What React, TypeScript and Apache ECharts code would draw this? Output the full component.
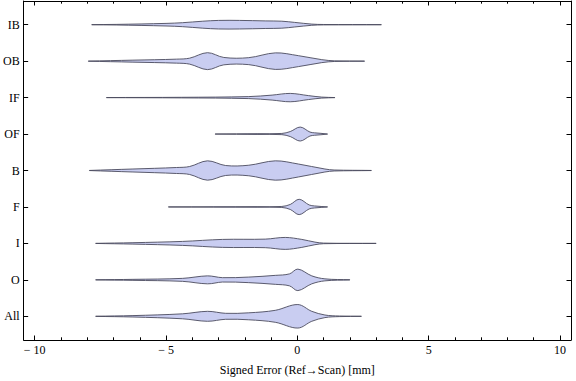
import React, { useEffect, useRef } from "react";
import * as echarts from "echarts";

// Categories, bottom to top
const categories = ["All", "O", "I", "F", "B", "OF", "IF", "OB", "IB"];

// Violin profiles: x positions (signed error, mm) and half-widths (density, in px at reference scale)
const allX = [-7.68, -6.26, -4.37, -3.42, -2.73, -1.85, -0.84, 0.02, 0.55, 1.05, 1.6, 2.44];
const allW = [0, 0.7, 2.5, 5.0, 3.0, 3.5, 6.0, 11.8, 5.0, 1.3, 0.3, 0];
const oX = [-7.68, -6.26, -4.37, -3.42, -2.85, -1.85, -0.84, -0.3, 0.02, 0.55, 1.05, 2.0];
const oW = [0, 0.5, 1.5, 4.0, 2.2, 2.8, 4.5, 6.0, 10.8, 4.0, 1.0, 0];
const iX = [-7.68, -6.26, -4.37, -2.85, -1.22, -0.46, 0.17, 0.67, 1.0, 3.0];
const iW = [0, 0.7, 2.0, 4.0, 4.3, 6.0, 4.0, 1.3, 0.3, 0];
const fX = [-4.91, -1.5, -0.59, -0.27, 0.07, 0.45, 0.66, 1.15];
const fW = [0, 0.3, 0.5, 2.5, 7.7, 2.0, 1.0, 0];
const bX = [-7.92, -6.26, -4.6, -4.1, -3.42, -2.73, -1.85, -0.84, 0.04, 1.05, 1.4, 2.82];
const bW = [0, 1.5, 3.0, 4.0, 9.7, 5.0, 5.3, 9.7, 6.5, 1.5, 0.5, 0];
const ofX = [-3.13, -1.5, -0.59, -0.27, 0.11, 0.48, 0.66, 0.9, 1.15];
const ofW = [0, 0.4, 0.6, 2.5, 7.0, 2.0, 1.2, 0.7, 0];
const ifX = [-7.27, -4.4, -1.85, -0.96, -0.27, 0.42, 0.93, 1.43];
const ifW = [0, 0.3, 1.0, 2.5, 4.2, 2.0, 0.5, 0];
const obX = [-7.96, -6.26, -4.6, -4.1, -3.42, -2.8, -1.85, -0.84, 0.04, 0.93, 1.42, 2.56];
const obW = [0, 1.0, 2.0, 3.0, 8.5, 3.7, 3.5, 8.3, 5.5, 1.5, 0.3, 0];
const ibX = [-7.83, -6.9, -5.0, -4.37, -3.6, -3.0, -2.2, -1.2, -0.59, -0.1, 0.55, 1.0, 3.2];
const ibW = [0, 0.3, 1.3, 2.0, 3.5, 4.3, 4.3, 3.8, 3.5, 2.3, 0.6, 0.2, 0];

const profilesX = [allX, oX, iX, fX, bX, ofX, ifX, obX, ibX];
const profilesW = [allW, oW, iW, fW, bW, ofW, ifW, obW, ibW];

const xMajor = [-10, -5, 0, 5, 10];
const xMinor = [-10, -9, -8, -7, -6, -5, -4, -3, -2, -1, 0, 1, 2, 3, 4, 5, 6, 7, 8, 9, 10];
const yTicks = [1, 2, 3, 4, 5, 6, 7, 8, 9];

const FONT = "Liberation Serif, DejaVu Serif, serif";

export default function App() {
  const ref = useRef<HTMLDivElement>(null);
  useEffect(() => {
    if (!ref.current) return;
    const chart = echarts.init(ref.current, null, { renderer: "svg" });
    const REF_UNIT = 36.6;
    const fmtX = (v: number) => (v < 0 ? "\u2212 " + Math.abs(v) : String(v));
    const xBase = {
      type: "value",
      min: -10.42,
      max: 10.42,
      splitLine: { show: false },
    };
    const line = { show: true, onZero: false, lineStyle: { color: "#000", width: 1 } };
    const option: any = {
      animation: false,
      textStyle: { fontFamily: FONT },
      grid: { left: 20.5, right: 5, top: 1, bottom: 40.5 },
      xAxis: [
        {
          ...xBase,
          position: "bottom",
          name: "Signed Error (Ref\u2192Scan) [mm]",
          nameLocation: "middle",
          nameGap: 24,
          nameTextStyle: { fontFamily: FONT, fontSize: 12, color: "#000" },
          axisLine: line,
          axisTick: { show: true, inside: true, length: 4.5, customValues: xMajor, lineStyle: { color: "#000" } },
          axisLabel: { show: true, customValues: xMajor, formatter: fmtX, fontFamily: FONT, fontSize: 12, color: "#000", margin: 4 },
        },
        {
          ...xBase,
          position: "bottom",
          axisLine: { show: false, onZero: false },
          axisTick: { show: true, inside: true, length: 2.7, customValues: xMinor, lineStyle: { color: "#000" } },
          axisLabel: { show: false },
        },
        {
          ...xBase,
          position: "top",
          axisLine: line,
          axisTick: { show: true, inside: true, length: 4.5, customValues: xMajor, lineStyle: { color: "#000" } },
          axisLabel: { show: false },
        },
        {
          ...xBase,
          position: "top",
          axisLine: { show: false, onZero: false },
          axisTick: { show: true, inside: true, length: 2.7, customValues: xMinor, lineStyle: { color: "#000" } },
          axisLabel: { show: false },
        },
      ],
      yAxis: [
        {
          type: "value",
          min: 0.35,
          max: 9.65,
          position: "left",
          splitLine: { show: false },
          axisLine: line,
          axisTick: { show: true, inside: true, length: 4.5, customValues: yTicks, lineStyle: { color: "#000" } },
          axisLabel: {
            show: true,
            customValues: yTicks,
            formatter: (v: number) => categories[Math.round(v) - 1] || "",
            fontFamily: FONT,
            fontSize: 12,
            color: "#000",
            margin: 4,
          },
        },
        {
          type: "value",
          min: 0.35,
          max: 9.65,
          position: "right",
          splitLine: { show: false },
          axisLine: line,
          axisTick: { show: true, inside: true, length: 4.5, customValues: yTicks, lineStyle: { color: "#000" } },
          axisLabel: { show: false },
        },
      ],
      series: [
        {
          type: "custom",
          xAxisIndex: 0,
          yAxisIndex: 0,
          encode: { x: 0, y: 1 },
          data: categories.map((_, i) => [0, i + 1, i]),
          renderItem: (params: any, api: any) => {
            const idx = api.value(2);
            const cy = api.value(1);
            const xs = profilesX[idx];
            const ws = profilesW[idx];
            const top: number[][] = [];
            const bot: number[][] = [];
            for (let k = 0; k < xs.length; k++) {
              const w = Math.max(ws[k], 0.05) / REF_UNIT;
              top.push(api.coord([xs[k], cy + w]));
              bot.push(api.coord([xs[k], cy - w]));
            }
            const pts = top.concat(bot.reverse());
            return {
              type: "polygon",
              shape: { points: pts, smooth: 0.35 },
              style: { fill: "#c9cdf1", stroke: "#4b4b5e", lineWidth: 0.9 },
            };
          },
        },
      ],
    };
    chart.setOption(option);
    return () => chart.dispose();
  }, []);
  return (
    <div
      ref={ref}
      style={{ position: "fixed", left: 0, top: 0, width: 576, height: 381, background: "#fff" }}
    />
  );
}
